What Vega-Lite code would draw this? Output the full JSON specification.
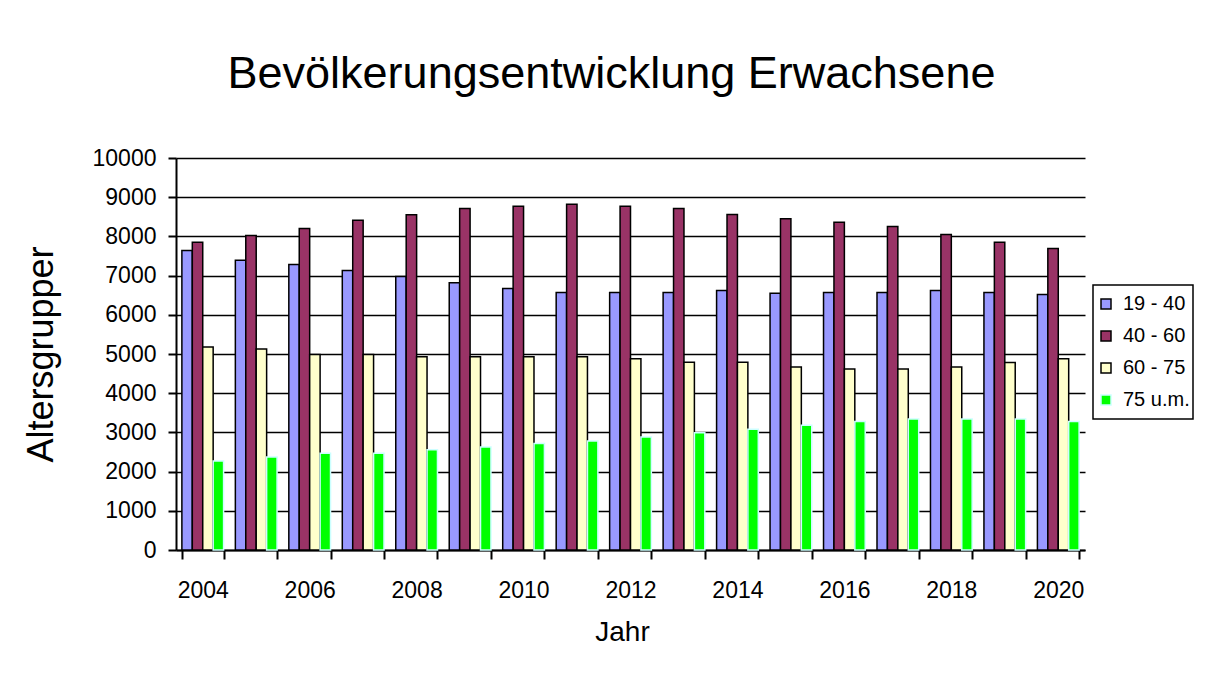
{
  "$schema": "https://vega.github.io/schema/vega-lite/v6.json",
  "width": 909,
  "height": 392,
  "autosize": {"type": "none"},
  "padding": {"left": 176, "top": 158, "right": 128, "bottom": 127},
  "background": "white",
  "title": {"text": "Bevölkerungsentwicklung Erwachsene", "font": "Liberation Sans", "fontSize": 45, "fontWeight": "normal", "color": "black", "anchor": "middle", "dx": -19, "offset": 50},
  "data": {"values": [
    {"Jahr": 2004, "Gruppe": "19 - 40", "Wert": 7640}, {"Jahr": 2004, "Gruppe": "40 - 60", "Wert": 7850}, {"Jahr": 2004, "Gruppe": "60 - 75", "Wert": 5180}, {"Jahr": 2004, "Gruppe": "75 u.m.", "Wert": 2270},
    {"Jahr": 2005, "Gruppe": "19 - 40", "Wert": 7390}, {"Jahr": 2005, "Gruppe": "40 - 60", "Wert": 8020}, {"Jahr": 2005, "Gruppe": "60 - 75", "Wert": 5130}, {"Jahr": 2005, "Gruppe": "75 u.m.", "Wert": 2370},
    {"Jahr": 2006, "Gruppe": "19 - 40", "Wert": 7280}, {"Jahr": 2006, "Gruppe": "40 - 60", "Wert": 8200}, {"Jahr": 2006, "Gruppe": "60 - 75", "Wert": 4990}, {"Jahr": 2006, "Gruppe": "75 u.m.", "Wert": 2470},
    {"Jahr": 2007, "Gruppe": "19 - 40", "Wert": 7130}, {"Jahr": 2007, "Gruppe": "40 - 60", "Wert": 8410}, {"Jahr": 2007, "Gruppe": "60 - 75", "Wert": 4990}, {"Jahr": 2007, "Gruppe": "75 u.m.", "Wert": 2470},
    {"Jahr": 2008, "Gruppe": "19 - 40", "Wert": 6980}, {"Jahr": 2008, "Gruppe": "40 - 60", "Wert": 8550}, {"Jahr": 2008, "Gruppe": "60 - 75", "Wert": 4930}, {"Jahr": 2008, "Gruppe": "75 u.m.", "Wert": 2560},
    {"Jahr": 2009, "Gruppe": "19 - 40", "Wert": 6820}, {"Jahr": 2009, "Gruppe": "40 - 60", "Wert": 8710}, {"Jahr": 2009, "Gruppe": "60 - 75", "Wert": 4930}, {"Jahr": 2009, "Gruppe": "75 u.m.", "Wert": 2630},
    {"Jahr": 2010, "Gruppe": "19 - 40", "Wert": 6670}, {"Jahr": 2010, "Gruppe": "40 - 60", "Wert": 8770}, {"Jahr": 2010, "Gruppe": "60 - 75", "Wert": 4930}, {"Jahr": 2010, "Gruppe": "75 u.m.", "Wert": 2720},
    {"Jahr": 2011, "Gruppe": "19 - 40", "Wert": 6570}, {"Jahr": 2011, "Gruppe": "40 - 60", "Wert": 8820}, {"Jahr": 2011, "Gruppe": "60 - 75", "Wert": 4930}, {"Jahr": 2011, "Gruppe": "75 u.m.", "Wert": 2780},
    {"Jahr": 2012, "Gruppe": "19 - 40", "Wert": 6570}, {"Jahr": 2012, "Gruppe": "40 - 60", "Wert": 8770}, {"Jahr": 2012, "Gruppe": "60 - 75", "Wert": 4880}, {"Jahr": 2012, "Gruppe": "75 u.m.", "Wert": 2880},
    {"Jahr": 2013, "Gruppe": "19 - 40", "Wert": 6570}, {"Jahr": 2013, "Gruppe": "40 - 60", "Wert": 8710}, {"Jahr": 2013, "Gruppe": "60 - 75", "Wert": 4790}, {"Jahr": 2013, "Gruppe": "75 u.m.", "Wert": 2990},
    {"Jahr": 2014, "Gruppe": "19 - 40", "Wert": 6620}, {"Jahr": 2014, "Gruppe": "40 - 60", "Wert": 8560}, {"Jahr": 2014, "Gruppe": "60 - 75", "Wert": 4790}, {"Jahr": 2014, "Gruppe": "75 u.m.", "Wert": 3080},
    {"Jahr": 2015, "Gruppe": "19 - 40", "Wert": 6550}, {"Jahr": 2015, "Gruppe": "40 - 60", "Wert": 8450}, {"Jahr": 2015, "Gruppe": "60 - 75", "Wert": 4670}, {"Jahr": 2015, "Gruppe": "75 u.m.", "Wert": 3180},
    {"Jahr": 2016, "Gruppe": "19 - 40", "Wert": 6570}, {"Jahr": 2016, "Gruppe": "40 - 60", "Wert": 8360}, {"Jahr": 2016, "Gruppe": "60 - 75", "Wert": 4620}, {"Jahr": 2016, "Gruppe": "75 u.m.", "Wert": 3280},
    {"Jahr": 2017, "Gruppe": "19 - 40", "Wert": 6570}, {"Jahr": 2017, "Gruppe": "40 - 60", "Wert": 8250}, {"Jahr": 2017, "Gruppe": "60 - 75", "Wert": 4620}, {"Jahr": 2017, "Gruppe": "75 u.m.", "Wert": 3340},
    {"Jahr": 2018, "Gruppe": "19 - 40", "Wert": 6620}, {"Jahr": 2018, "Gruppe": "40 - 60", "Wert": 8050}, {"Jahr": 2018, "Gruppe": "60 - 75", "Wert": 4670}, {"Jahr": 2018, "Gruppe": "75 u.m.", "Wert": 3340},
    {"Jahr": 2019, "Gruppe": "19 - 40", "Wert": 6570}, {"Jahr": 2019, "Gruppe": "40 - 60", "Wert": 7850}, {"Jahr": 2019, "Gruppe": "60 - 75", "Wert": 4780}, {"Jahr": 2019, "Gruppe": "75 u.m.", "Wert": 3340},
    {"Jahr": 2020, "Gruppe": "19 - 40", "Wert": 6520}, {"Jahr": 2020, "Gruppe": "40 - 60", "Wert": 7690}, {"Jahr": 2020, "Gruppe": "60 - 75", "Wert": 4880}, {"Jahr": 2020, "Gruppe": "75 u.m.", "Wert": 3280}
  ]},
  "mark": {"type": "bar", "strokeWidth": 1.5},
  "encoding": {
    "x": {
      "field": "Jahr", "type": "ordinal",
      "scale": {"paddingInner": 0.22, "paddingOuter": 0.11},
      "axis": {
        "title": "Jahr", "tickBand": "extent", "labelAngle": 0, "labelOverlap": false,
        "labelExpr": "datum.value % 2 == 0 ? datum.label : ''",
        "grid": false,
        "domainColor": "black", "domainWidth": 2,
        "tickColor": "black", "tickWidth": 2, "tickSize": 9,
        "labelFont": "Liberation Sans", "labelFontSize": 23, "labelColor": "black", "labelPadding": 20,
        "titleFont": "Liberation Sans", "titleFontSize": 28, "titleFontWeight": "normal", "titleColor": "black", "titlePadding": 16, "titleX": 446, "titleAlign": "center"
      }
    },
    "xOffset": {"field": "Gruppe", "type": "nominal", "sort": ["19 - 40", "40 - 60", "60 - 75", "75 u.m."], "scale": {"paddingInner": 0, "paddingOuter": 0}},
    "y": {
      "field": "Wert", "type": "quantitative",
      "scale": {"domain": [0, 10000], "nice": false},
      "axis": {
        "title": "Altersgrupper", "values": [0, 1000, 2000, 3000, 4000, 5000, 6000, 7000, 8000, 9000, 10000], "format": "d",
        "grid": true, "gridColor": "black", "gridWidth": 1.5, "gridOpacity": 1,
        "domainColor": "black", "domainWidth": 2,
        "tickColor": "black", "tickWidth": 2, "tickSize": 8,
        "labelFont": "Liberation Sans", "labelFontSize": 23, "labelColor": "black", "labelPadding": 12,
        "titleFont": "Liberation Sans", "titleFontSize": 36, "titleFontWeight": "normal", "titleColor": "black", "titlePadding": 32
      }
    },
    "fill": {
      "field": "Gruppe", "type": "nominal",
      "scale": {"domain": ["19 - 40", "40 - 60", "60 - 75", "75 u.m."], "range": ["#9999FF", "#993366", "#FFFFCC", "#00FF00"]},
      "legend": {
        "title": null, "orient": "none", "legendX": 917, "legendY": 127,
        "strokeColor": "black", "fillColor": "white", "padding": 3,
        "symbolType": "square", "symbolSize": 100, "symbolStrokeWidth": 1.5,
        "labelFont": "Liberation Sans", "labelFontSize": 20, "labelColor": "black", "labelOffset": 7,
        "labelExpr": "datum.label + '\u00a0'",
        "rowPadding": 0, "clipHeight": 32
      }
    },
    "stroke": {
      "field": "Gruppe", "type": "nominal",
      "scale": {"domain": ["19 - 40", "40 - 60", "60 - 75", "75 u.m."], "range": ["black", "black", "black", "#CCFFFF"]},
      "legend": {
        "title": null, "orient": "none", "legendX": 917, "legendY": 127,
        "strokeColor": "black", "fillColor": "white", "padding": 3,
        "symbolType": "square", "symbolSize": 100, "symbolStrokeWidth": 1.5,
        "labelFont": "Liberation Sans", "labelFontSize": 20, "labelColor": "black", "labelOffset": 7,
        "labelExpr": "datum.label + '\u00a0'",
        "rowPadding": 0, "clipHeight": 32
      }
    }
  },
  "config": {
    "view": {"stroke": null},
    "legend": {"strokeWidth": 1.5}
  }
}
